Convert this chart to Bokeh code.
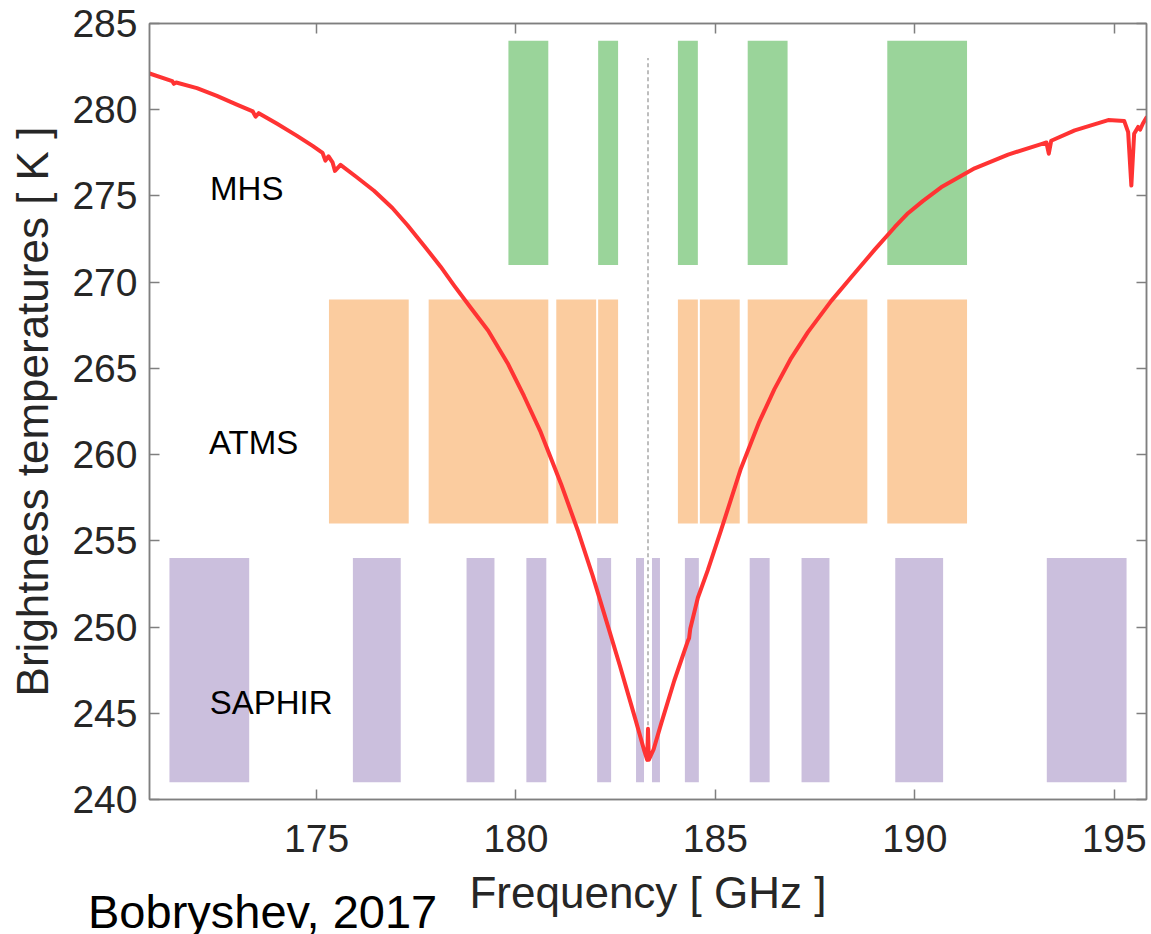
from bokeh.plotting import figure
from bokeh.models import ColumnDataSource, FixedTicker, LinearAxis, Range1d, Div
from bokeh.layouts import column
from bokeh.embed import file_html
from bokeh.resources import INLINE
from bokeh.core.properties import value

# ---------------- data ----------------
# simulated brightness temperature spectrum around the 183.31 GHz water-vapour line
freq = [170.81, 171.38, 171.42, 171.48, 172.00, 172.50, 173.00, 173.40, 173.47, 173.55,
        174.00, 174.50, 174.90, 175.15, 175.22, 175.30, 175.40, 175.46, 175.60, 176.00,
        176.44, 176.90, 177.28, 177.70, 178.11, 178.45, 178.87, 179.30, 179.79, 180.20,
        180.62, 181.13, 181.55, 181.92, 182.30, 182.60, 182.80, 183.00, 183.22, 183.29,
        183.31, 183.33, 183.45, 183.64, 183.97, 184.31, 184.34, 184.37, 184.56, 184.81,
        185.14, 185.64, 186.10, 186.48, 186.90, 187.32, 187.90, 188.41, 189.00, 189.50,
        189.83, 190.20, 190.66, 191.50, 192.34, 193.17, 193.30, 193.36, 193.42, 194.01,
        194.85, 195.25, 195.35, 195.43, 195.50, 195.60, 195.65, 195.72, 195.81]
tb = [282.10, 281.66, 281.50, 281.58, 281.25, 280.80, 280.30, 279.90, 279.60, 279.80,
      279.20, 278.50, 277.90, 277.50, 277.05, 277.30, 276.95, 276.45, 276.80, 276.10,
      275.30, 274.30, 273.30, 272.10, 270.90, 269.80, 268.50, 267.20, 265.30, 263.40,
      261.30, 258.30, 255.60, 253.00, 250.10, 247.80, 246.20, 244.60, 242.80, 242.30,
      244.10, 242.30, 242.90, 244.40, 246.90, 249.20, 249.35, 249.90, 251.70, 253.30,
      255.60, 259.20, 261.90, 263.80, 265.60, 267.10, 268.90, 270.30, 271.90, 273.20,
      274.00, 274.70, 275.50, 276.60, 277.40, 278.00, 278.10, 277.45, 278.20, 278.80,
      279.40, 279.35, 278.70, 275.60, 278.60, 279.00, 278.85, 279.20, 279.55]

# instrument channel pass-bands [GHz]
mhs_lo = [179.81, 182.06, 184.06, 185.81, 189.31]
mhs_hi = [180.81, 182.56, 184.56, 186.81, 191.31]
mhs_bottom, mhs_top = 271.0, 284.0

atms_lo = [175.31, 177.81, 181.01, 182.06, 184.06, 184.61, 185.81, 189.31]
atms_hi = [177.31, 180.81, 182.01, 182.56, 184.56, 185.61, 188.81, 191.31]
atms_bottom, atms_top = 256.0, 269.0

saphir_lo = [171.31, 175.91, 178.76, 180.26, 182.035, 183.01, 183.41, 184.235, 185.86, 187.16, 189.51, 193.31]
saphir_hi = [173.31, 177.11, 179.46, 180.76, 182.385, 183.21, 183.61, 184.585, 186.36, 187.86, 190.71, 195.31]
saphir_bottom, saphir_top = 241.0, 254.0

line_center = [183.31]
line_y0 = [243.5]
line_y1 = [283.0]

sensor_names = ["MHS", "ATMS", "SAPHIR"]

x_ticks = [175, 180, 185, 190, 195]
y_ticks = [240, 245, 250, 255, 260, 265, 270, 275, 280, 285]

credit = "Bobryshev, 2017"

# ---------------- figure ----------------
FONT = "Liberation Sans"
AXC = "#7f7f7f"
TXT = "#262626"

p = figure(frame_width=997, frame_height=776,
           x_range=Range1d(170.81, 195.81), y_range=Range1d(240, 285),
           output_backend="svg", toolbar_location=None,
           min_border_left=149, min_border_right=5, min_border_top=23, min_border_bottom=135)
p.xgrid.visible = False
p.ygrid.visible = False
p.outline_line_color = AXC
p.outline_line_width = 1.5
p.background_fill_color = "white"
p.border_fill_color = "white"

p.quad(left=saphir_lo, right=saphir_hi, bottom=saphir_bottom, top=saphir_top,
       fill_color="#cbbfdd", line_color=None)
p.quad(left=atms_lo, right=atms_hi, bottom=atms_bottom, top=atms_top,
       fill_color="#fbcc9f", line_color=None)
p.quad(left=mhs_lo, right=mhs_hi, bottom=mhs_bottom, top=mhs_top,
       fill_color="#9ad49a", line_color=None)

p.segment(x0=line_center, x1=line_center, y0=line_y0, y1=line_y1,
          line_color="#9a9a9a", line_width=1.3, line_dash="4 3")

p.line(freq, tb, line_color="#ff3333", line_width=4, line_join="round", line_cap="round")

# sensor labels
lab_src = ColumnDataSource(dict(x=[172.33, 172.30, 172.32], y=[275.43, 260.71, 245.6], t=sensor_names))
p.text(x="x", y="y", text="t", source=lab_src, text_font=value(FONT),
       text_font_size=value("33px"), text_color="black",
       text_baseline="alphabetic", text_align="left")


def style_axis(ax, ticks, labels=True):
    ax.ticker = FixedTicker(ticks=ticks)
    ax.axis_line_color = AXC
    ax.axis_line_width = 1.5
    ax.major_tick_line_color = AXC
    ax.major_tick_line_width = 1.5
    ax.major_tick_in = 10
    ax.major_tick_out = 0
    ax.minor_tick_line_color = None
    if labels:
        ax.major_label_text_font = FONT
        ax.major_label_text_font_size = "39px"
        ax.major_label_text_color = TXT
        ax.axis_label_text_font = FONT
        ax.axis_label_text_font_style = "normal"
        ax.axis_label_text_color = TXT
    else:
        ax.major_label_text_font_size = "0px"
        ax.major_label_standoff = 0


xa = p.xaxis[0]
style_axis(xa, x_ticks)
xa.axis_label = "Frequency [ GHz ]"
xa.axis_label_text_font_size = "44px"
xa.major_label_standoff = 25
xa.axis_label_standoff = 13

ya = p.yaxis[0]
style_axis(ya, y_ticks)
ya.axis_label = "Brightness temperatures [ K ]"
ya.axis_label_text_font_size = "44px"
ya.major_label_standoff = 12
ya.axis_label_standoff = 12

top_ax = LinearAxis()
style_axis(top_ax, x_ticks, labels=False)
p.add_layout(top_ax, "above")
right_ax = LinearAxis()
style_axis(right_ax, y_ticks, labels=False)
p.add_layout(right_ax, "right")

# source credit, overlapping the bottom border of the figure
note = Div(text=credit, width=420, height=44, margin=(-50, 0, 0, 88),
           styles={"font-family": "'Liberation Sans', Arial, sans-serif", "font-size": "47px",
                   "color": "black", "white-space": "nowrap", "line-height": "normal",
                   "position": "relative", "z-index": "10", "overflow": "visible"})

layout = column(p, note, spacing=0)
open("out.html", "w").write(file_html(layout, INLINE))
